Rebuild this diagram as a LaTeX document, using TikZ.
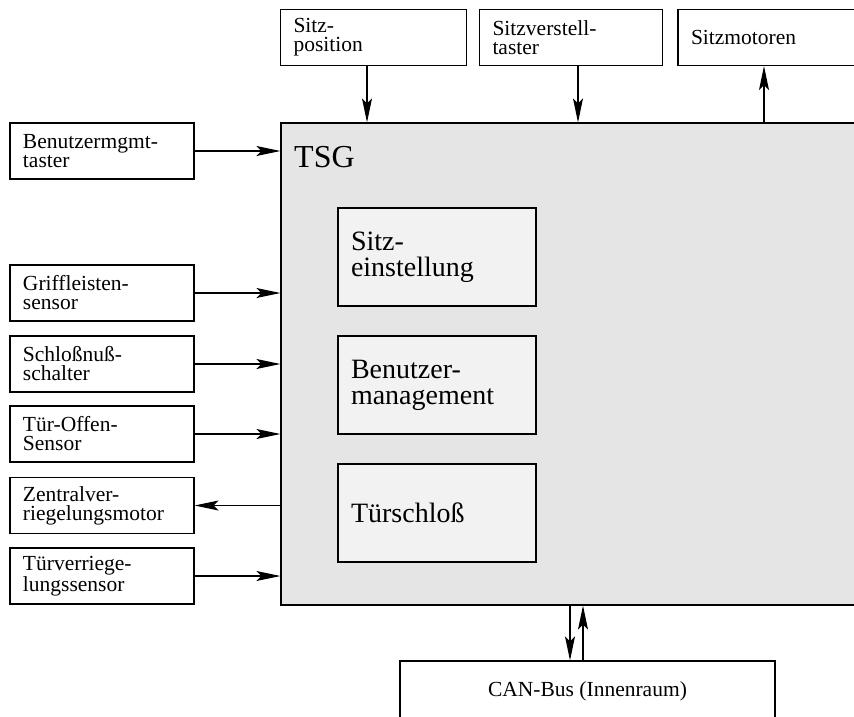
\documentclass[tikz,border=0pt]{standalone}
\usepackage{fontspec}
\setmainfont{Liberation Serif}
\usetikzlibrary{arrows.meta}
\begin{document}
\begin{tikzpicture}[x=1pt,y=-1pt,
  box/.style={draw=black,line width=1.2pt,fill=white,inner sep=0pt,align=left},
  smallbox/.style={box,minimum height=56pt,font=\fontsize{21.5}{19}\selectfont},
  leftbox/.style={smallbox,minimum width=184pt,text width=158pt},
  modbox/.style={box,fill=black!5,minimum width=198pt,minimum height=98pt,
    text width=172pt,font=\fontsize{28}{26}\selectfont},
  arr/.style={line width=1.1pt,-{Stealth[length=24pt,width=10pt,inset=5pt]}},
]
\useasboundingbox (0,0) rectangle (854,716);
\clip (0,0) rectangle (854,716);

% control unit
\node[draw=black,line width=1.2pt,fill=black!10,minimum width=594pt,
  minimum height=482pt,inner sep=0pt] (tsg) at (578,364) {};
\node[anchor=base west,inner sep=0pt,font=\fontsize{32}{32}\selectfont]
  (tsglabel) at (294,167) {TSG};

% software modules
\node[modbox] (se) at (437,257) {Sitz-\\einstellung};
\node[modbox] (bm) at (437,385) {Benutzer-\\management};
\node[modbox] (ts) at (437,513) {Türschloß};

% seat devices
\node[smallbox,minimum width=186pt,text width=160pt] (sp) at (373.5,37.5) {Sitz-\\position};
\node[smallbox,minimum width=183pt,text width=157pt] (sv) at (571,37.5) {Sitzverstell-\\taster};
\node[smallbox,minimum width=192pt,text width=166pt] (sm) at (774,37.5) {Sitzmotoren};

% door devices
\node[leftbox] (bt) at (102,151) {Benutzermgmt-\\taster};
\node[leftbox] (gs) at (102,293) {Griffleisten-\\sensor};
\node[leftbox] (sn) at (102,364) {Schloßnuß-\\schalter};
\node[leftbox] (to) at (102,434) {Tür-Offen-\\Sensor};
\node[leftbox] (zv) at (102,505.5) {Zentralver-\\riegelungsmotor};
\node[leftbox] (tv) at (102,576) {Türverriege-\\lungssensor};

% bus
\node[box,align=center,minimum width=375pt,minimum height=60pt,
  font=\fontsize{21.5}{19}\selectfont] (can) at (587.5,691) {CAN-Bus (Innenraum)};

% x positions of the vertical connectors
\coordinate (a1) at (367,0);
\coordinate (a2) at (578,0);
\coordinate (a3) at (764,0);
\coordinate (a4) at (570,0);
\coordinate (a5) at (583,0);

\draw[arr] (sp.south -| a1) -- (tsg.north -| a1);
\draw[arr] (sv.south -| a2) -- (tsg.north -| a2);
\draw[arr] (tsg.north -| a3) -- (sm.south -| a3);

\draw[arr] (bt.east) -- (tsg.west |- bt.east);
\draw[arr] (gs.east) -- (tsg.west |- gs.east);
\draw[arr] (sn.east) -- (tsg.west |- sn.east);
\draw[arr] (to.east) -- (tsg.west |- to.east);
\draw[arr] (tsg.west |- zv.east) -- (zv.east);
\draw[arr] (tv.east) -- (tsg.west |- tv.east);

\draw[arr] (tsg.south -| a4) -- (can.north -| a4);
\draw[arr] (can.north -| a5) -- (tsg.south -| a5);
\end{tikzpicture}
\end{document}
